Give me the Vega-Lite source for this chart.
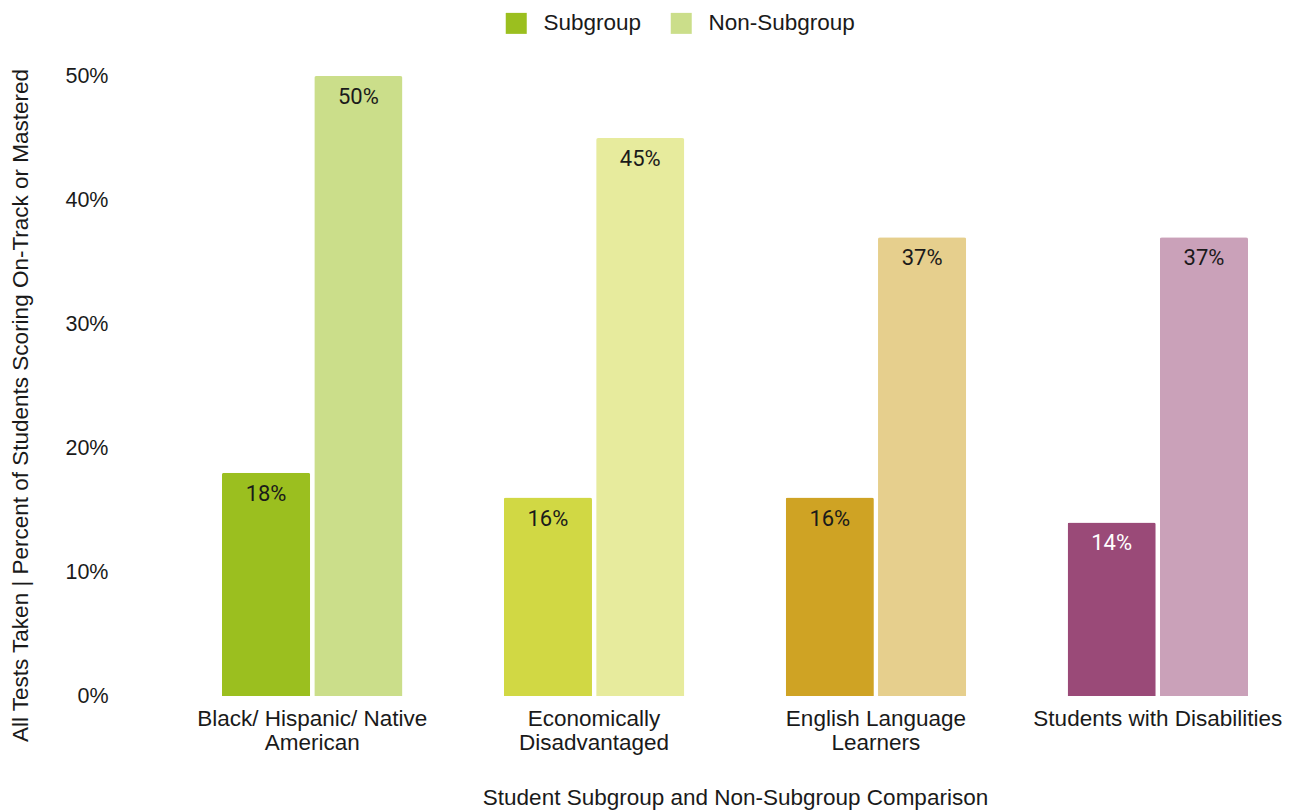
{
  "$schema": "https://vega.github.io/schema/vega-lite/v6.json",
  "width": 1110,
  "height": 620,
  "autosize": {"type": "none"},
  "padding": {"left": 180, "top": 76, "right": 6, "bottom": 114},
  "background": "white",
  "config": {
    "view": {"stroke": null},
    "font": "Liberation Sans"
  },
  "data": {
    "values": [
      {"group": "Black/ Hispanic/ Native American", "type": "Subgroup", "value": 0.18},
      {"group": "Black/ Hispanic/ Native American", "type": "Non-Subgroup", "value": 0.50},
      {"group": "Economically Disadvantaged", "type": "Subgroup", "value": 0.16},
      {"group": "Economically Disadvantaged", "type": "Non-Subgroup", "value": 0.45},
      {"group": "English Language Learners", "type": "Subgroup", "value": 0.16},
      {"group": "English Language Learners", "type": "Non-Subgroup", "value": 0.37},
      {"group": "Students with Disabilities", "type": "Subgroup", "value": 0.14},
      {"group": "Students with Disabilities", "type": "Non-Subgroup", "value": 0.37}
    ]
  },
  "encoding": {
    "x": {
      "field": "group",
      "type": "nominal",
      "sort": null,
      "scale": {"paddingInner": 0.36, "paddingOuter": 0.149},
      "axis": {
        "title": "Student Subgroup and Non-Subgroup Comparison",
        "titleFontSize": 22.5,
        "titleFontWeight": "normal",
        "titleColor": "#1a1a1a",
        "titleY": 101,
        "titleBaseline": "middle",
        "labelAngle": 0,
        "labelFontSize": 22.5,
        "labelColor": "#1a1a1a",
        "labelPadding": 11,
        "labelBaseline": "top",
        "labelLineHeight": 24,
        "labelLimit": 0,
        "labelOverlap": false,
        "labelExpr": "datum.value == 'Black/ Hispanic/ Native American' ? ['Black/ Hispanic/ Native', 'American'] : datum.value == 'Economically Disadvantaged' ? ['Economically', 'Disadvantaged'] : datum.value == 'English Language Learners' ? ['English Language', 'Learners'] : datum.value",
        "domain": false,
        "ticks": false,
        "grid": false
      }
    },
    "xOffset": {
      "field": "type",
      "type": "nominal",
      "sort": ["Subgroup", "Non-Subgroup"],
      "scale": {"paddingInner": 0.045}
    },
    "y": {
      "field": "value",
      "type": "quantitative",
      "scale": {"domain": [0, 0.5], "nice": false},
      "axis": {
        "title": "All Tests Taken | Percent of Students Scoring On-Track or Mastered",
        "titleFontSize": 22.5,
        "titleFontWeight": "normal",
        "titleColor": "#1a1a1a",
        "titleX": -160,
        "titleY": 329,
        "titleBaseline": "middle",
        "values": [0, 0.1, 0.2, 0.3, 0.4, 0.5],
        "format": ".0%",
        "labelFontSize": 21.5,
        "labelColor": "#1a1a1a",
        "labelPadding": 72,
        "domain": false,
        "ticks": false,
        "grid": false
      }
    }
  },
  "layer": [
    {
      "mark": {"type": "bar", "cornerRadiusTopLeft": 2, "cornerRadiusTopRight": 2},
      "encoding": {
        "color": {
          "field": "group",
          "type": "nominal",
          "scale": {
            "domain": ["Black/ Hispanic/ Native American", "Economically Disadvantaged", "English Language Learners", "Students with Disabilities"],
            "range": ["#9bbf1f", "#d1d844", "#cfa324", "#9a4a78"]
          },
          "legend": null
        },
        "opacity": {
          "field": "type",
          "type": "ordinal",
          "scale": {"domain": ["Subgroup", "Non-Subgroup"], "range": [1, 0.52]},
          "legend": {
            "title": null,
            "orient": "none",
            "legendX": 325,
            "legendY": -64,
            "direction": "horizontal",
            "symbolType": "square",
            "symbolSize": 441,
            "symbolFillColor": "#9bbf1f",
            "symbolStrokeWidth": 0,
            "labelFontSize": 22.5,
            "labelColor": "#1a1a1a",
            "labelOffset": 16,
            "columnPadding": 28
          }
        }
      }
    },
    {
      "mark": {"type": "text", "font": "Roboto", "fontSize": 22, "baseline": "middle", "dy": 21},
      "encoding": {
        "text": {"field": "value", "type": "quantitative", "format": ".0%"},
        "color": {
          "condition": {"test": "datum.group == 'Students with Disabilities' && datum.type == 'Subgroup'", "value": "#ffffff"},
          "value": "#1a1a1a"
        }
      }
    }
  ]
}
